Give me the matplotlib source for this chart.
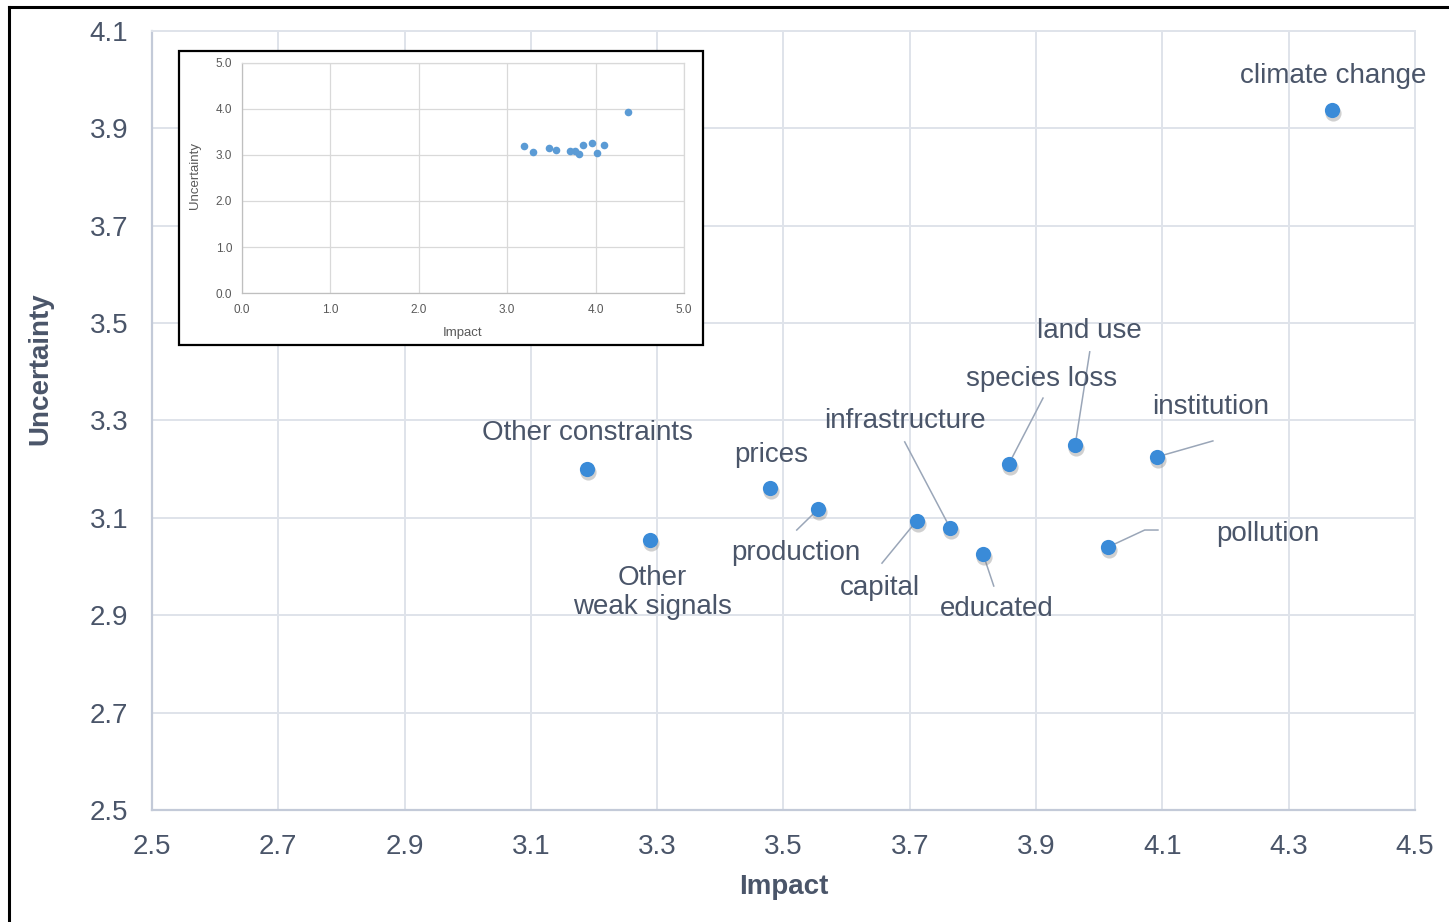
import numpy as np
import matplotlib
matplotlib.use("Agg")
import matplotlib.pyplot as plt
import matplotlib.transforms as mtransforms
from matplotlib.lines import Line2D
from matplotlib.patches import Rectangle

plt.rcParams['font.family'] = ['Liberation Sans', 'DejaVu Sans']

# weak signals: impact vs uncertainty
names = ['climate change', 'Other constraints', 'Other\nweak signals', 'prices',
         'production', 'capital', 'infrastructure', 'educated',
         'species loss', 'land use', 'pollution', 'institution']
impact = [4.369, 3.189, 3.289, 3.479, 3.555, 3.711, 3.764, 3.816,
          3.857, 3.962, 4.014, 4.091]
uncertainty = [3.938, 3.200, 3.055, 3.161, 3.118, 3.094, 3.079, 3.026,
               3.211, 3.250, 3.040, 3.225]

xticks = [2.5, 2.7, 2.9, 3.1, 3.3, 3.5, 3.7, 3.9, 4.1, 4.3, 4.5]
yticks = [2.5, 2.7, 2.9, 3.1, 3.3, 3.5, 3.7, 3.9, 4.1]
inset_ticks = [0.0, 1.0, 2.0, 3.0, 4.0, 5.0]

# label placement (text centre) and leader line path, in data units
label_pos = {
    'climate change': (4.370, 4.014),
    'Other constraints': (3.190, 3.281),
    'Other\nweak signals': (3.292, 2.952),
    'prices': (3.480, 3.235),
    'production': (3.520, 3.034),
    'capital': (3.653, 2.962),
    'infrastructure': (3.692, 3.305),
    'educated': (3.837, 2.919),
    'species loss': (3.909, 3.391),
    'land use': (3.984, 3.490),
    'pollution': (4.267, 3.073),
    'institution': (4.177, 3.334),
}
leaders = {
    'production': [(3.521, 3.075)],
    'capital': [(3.656, 3.007)],
    'infrastructure': [(3.692, 3.256)],
    'educated': [(3.833, 2.960)],
    'species loss': [(3.911, 3.346)],
    'land use': [(3.985, 3.441)],
    'institution': [(4.180, 3.258)],
    'pollution': [(4.072, 3.075), (4.093, 3.075)],
}

text_col = '#4a5569'
grid_col = '#dfe3ea'
spine_col = '#c3cad8'
dot_col = '#3a8bd8'

fig = plt.figure(figsize=(14.49, 9.22), dpi=100)
ax = fig.add_axes([0.1049, 0.1215, 0.8716, 0.8449])

ax.set_xlim(2.5, 4.5)
ax.set_ylim(2.5, 4.1)
ax.set_xticks(xticks)
ax.set_yticks(yticks)
ax.set_xticklabels(['%.1f' % v for v in xticks])
ax.set_yticklabels(['%.1f' % v for v in yticks])
ax.tick_params(length=0, labelsize=20, labelcolor=text_col)
ax.tick_params(axis='x', pad=17)
ax.tick_params(axis='y', pad=17)
ax.grid(True, color=grid_col, linewidth=1.4)
ax.set_axisbelow(True)
for s in ['top', 'right']:
    ax.spines[s].set_color(grid_col)
    ax.spines[s].set_linewidth(1.4)
for s in ['left', 'bottom']:
    ax.spines[s].set_color(spine_col)
    ax.spines[s].set_linewidth(1.6)

ax.set_xlabel('Impact', fontsize=20, fontweight='bold', color=text_col)
ax.set_ylabel('Uncertainty', fontsize=20, fontweight='bold', color=text_col)
ax.xaxis.set_label_coords(0.5004, -0.0822)
ax.yaxis.set_label_coords(-0.0784, 0.567)

# leader lines
for n, x, y in zip(names, impact, uncertainty):
    if n in leaders:
        pts = [(x, y)] + leaders[n]
        ax.plot([p[0] for p in pts], [p[1] for p in pts], color='#9aa6b8',
                lw=1.1, zorder=2)

# soft drop shadow under the dots
shadow = mtransforms.offset_copy(ax.transData, fig=fig, x=0.8, y=-2.2, units='points')
ax.scatter(impact, uncertainty, s=135, color='#7a7a7a', alpha=0.35,
           transform=shadow, linewidths=0, zorder=3)
ax.scatter(impact, uncertainty, s=120, color=dot_col, linewidths=0, zorder=4)

# labels nudged slightly down so the glyphs sit on their centre line
label_tr = mtransforms.offset_copy(ax.transData, fig=fig, x=0, y=-2, units='points')
for n in names:
    lx, ly = label_pos[n]
    ax.text(lx, ly, n, fontsize=20, color=text_col, ha='center', va='center',
            linespacing=1.15, zorder=5, transform=label_tr)

# inset: full 0-5 scale view
frame = Rectangle((0.1235, 0.6258), 0.3616, 0.3189, transform=fig.transFigure,
                  facecolor='white', edgecolor='black', lw=1.6, zorder=1.5)
fig.add_artist(frame)

ins = fig.add_axes([0.1670, 0.6822, 0.3050, 0.2495], zorder=2)
ins.set_xlim(0, 5)
ins.set_ylim(0, 5)
ins.set_xticks(inset_ticks)
ins.set_yticks(inset_ticks)
ins.set_xticklabels(['%.1f' % v for v in inset_ticks])
ins.set_yticklabels(['%.1f' % v for v in inset_ticks])
ins.tick_params(length=0, labelsize=8.5, labelcolor='#595959')
ins.tick_params(axis='x', pad=8)
ins.tick_params(axis='y', pad=7)
ins.grid(True, color='#d9d9d9', linewidth=0.9)
ins.set_axisbelow(True)
for s in ins.spines.values():
    s.set_color('#d9d9d9')
    s.set_linewidth(0.9)
ins.spines['left'].set_color('#bfbfbf')
ins.spines['bottom'].set_color('#bfbfbf')
ins.set_xlabel('Impact', fontsize=9.5, color='#595959')
ins.set_ylabel('Uncertainty', fontsize=9.5, color='#595959')
ins.xaxis.set_label_coords(0.5, -0.148)
ins.yaxis.set_label_coords(-0.093, 0.509)
ins.scatter(impact, uncertainty, s=30, color='#5b9bd5', linewidths=0, zorder=3)

# outer border (top and left)
fig.add_artist(Line2D([0.0062, 1.0], [0.9924, 0.9924], transform=fig.transFigure,
                      color='black', lw=2.2))
fig.add_artist(Line2D([0.0062, 0.0062], [0.0, 0.9924], transform=fig.transFigure,
                      color='black', lw=2.2))

fig.savefig('out.png', dpi=100)
